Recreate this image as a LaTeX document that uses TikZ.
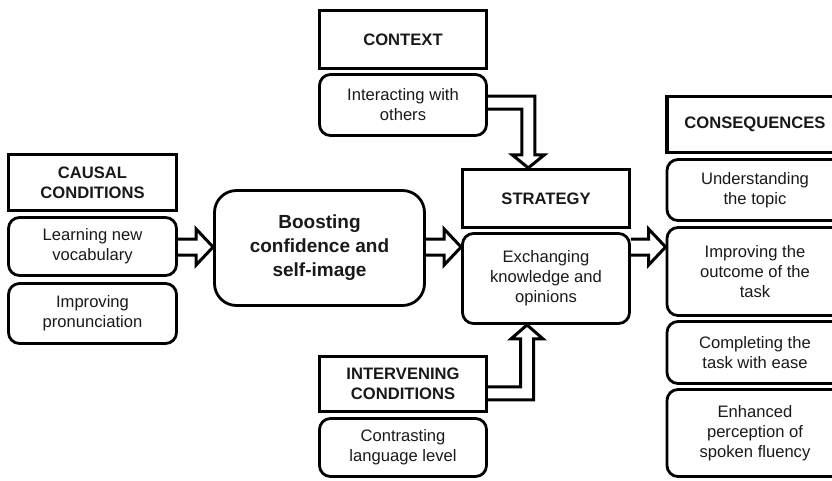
\documentclass[tikz,border=0pt]{standalone}
\usepackage{fontspec}
\setmainfont{Liberation Sans}
\usetikzlibrary{calc}
\begin{document}
\begin{tikzpicture}[x=1pt,y=-1pt,
  hdr/.style={draw, line width=3.2pt, rectangle, align=center, text=black!90,
    font=\fontsize{16.6}{20}\selectfont\bfseries, inner sep=0pt},
  item/.style={draw, line width=2.8pt, rounded corners=11pt, align=center, text=black!90,
    font=\fontsize{16.6}{20}\selectfont, inner sep=0pt},
  big/.style={draw, line width=2.8pt, rounded corners=22pt, align=center, text=black!90,
    font=\fontsize{19}{24}\selectfont\bfseries, inner sep=0pt},
  blk/.style={draw, line width=3pt, line join=miter, miter limit=10}]
\useasboundingbox (0,0) rectangle (832,480);
% context
\node[hdr, minimum width=167, minimum height=58] (ctxh) at (403,39.5) {CONTEXT};
\node[item, minimum width=167, minimum height=61] (ctxb) at (403,105) {Interacting with\\others};
% causal conditions
\node[hdr, minimum width=168, minimum height=56] (cch) at (92.5,182.5) {CAUSAL\\CONDITIONS};
\node[item, minimum width=168, minimum height=58] (lnv) at (92.5,246.5) {Learning new\\vocabulary};
\node[item, minimum width=168, minimum height=60] (ipr) at (92.5,313.5) {Improving\\pronunciation};
% central
\node[big, minimum width=210, minimum height=115] (boost) at (319.5,248) {Boosting\\confidence and\\self-image};
% strategy
\node[hdr, minimum width=167, minimum height=58] (strh) at (546,198.5) {STRATEGY};
\node[item, minimum width=167, minimum height=90] (exch) at (546,278.5) {Exchanging\\knowledge and\\opinions};
% intervening
\node[hdr, minimum width=167, minimum height=55] (inth) at (403,384) {INTERVENING\\CONDITIONS};
\node[item, minimum width=167, minimum height=58] (cont) at (403,447.5) {Contrasting\\language level};
% consequences
\node[hdr, minimum width=176, minimum height=56] (consh) at (755,124.5) {CONSEQUENCES};
\node[item, minimum width=176, minimum height=61] (und) at (755,190) {Understanding\\the topic};
\node[item, minimum width=176, minimum height=88] (iout) at (755,271.5) {Improving the\\outcome of the\\task};
\node[item, minimum width=176, minimum height=62] (cmp) at (755,352.5) {Completing the\\task with ease};
\node[item, minimum width=176, minimum height=87] (enh) at (755,433) {Enhanced\\perception of\\spoken fluency};
% horizontal block arrows
\coordinate (mid) at (0,247);
\newcommand\harrow[2]{%
  \draw[blk] ($(#1)+(0,-8)$) -- ($(#2)+(-17,-8)$) -- ($(#2)+(-17,-18)$) -- (#2)
    -- ($(#2)+(-17,18)$) -- ($(#2)+(-17,8)$) -- ($(#1)+(0,8)$);}
\coordinate (a1s) at (lnv.east |- mid);
\coordinate (a1e) at (boost.west |- mid);
\coordinate (a2s) at (boost.east |- mid);
\coordinate (a2e) at (exch.west |- mid);
\coordinate (a3s) at (exch.east |- mid);
\coordinate (a3e) at (iout.west |- mid);
\harrow{a1s}{a1e}
\harrow{a2s}{a2e}
\harrow{a3s}{a3e}
% context -> strategy
\coordinate (cx) at (528.3,102.7);
\coordinate (c1) at (ctxb.east |- cx);
\coordinate (c2) at (strh.north -| cx);
\draw[blk] ($(c1)+(0,-6.5)$) -- ($(cx)+(6.5,-6.5)$) -- ($(c2)+(6.5,-13)$) -- ($(c2)+(16,-13)$)
  -- (c2) -- ($(c2)+(-16,-13)$) -- ($(c2)+(-6.5,-13)$) -- ($(cx)+(-6.5,6.5)$) -- ($(c1)+(0,6.5)$);
% intervening -> strategy
\coordinate (ix) at (527,393.3);
\coordinate (i1) at (inth.east |- ix);
\coordinate (i2) at (exch.south -| ix);
\draw[blk] ($(i1)+(0,6.5)$) -- ($(ix)+(6.5,6.5)$) -- ($(i2)+(6.5,14)$) -- ($(i2)+(16,14)$)
  -- (i2) -- ($(i2)+(-16,14)$) -- ($(i2)+(-6.5,14)$) -- ($(ix)+(-6.5,-6.5)$) -- ($(i1)+(0,-6.5)$);
\end{tikzpicture}
\end{document}
